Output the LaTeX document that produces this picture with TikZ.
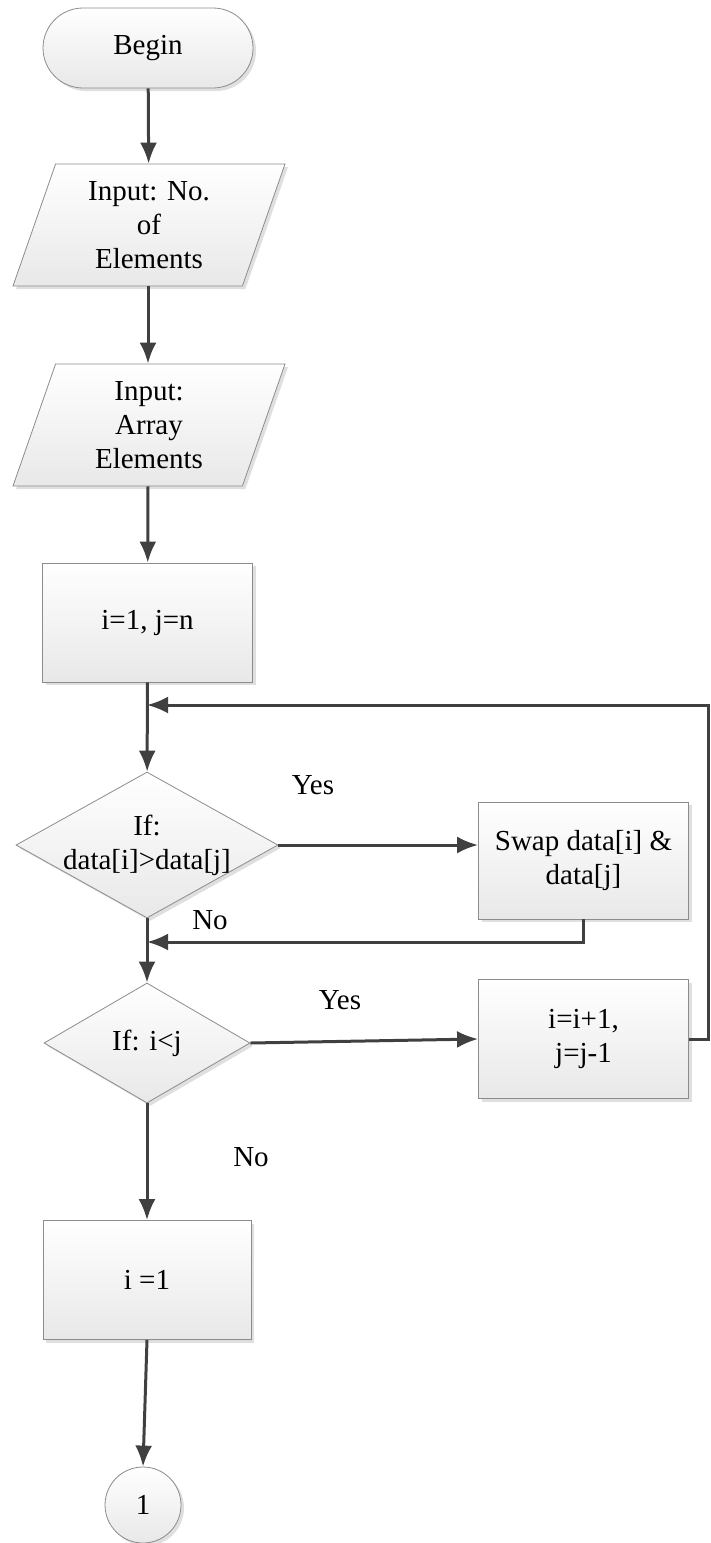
\documentclass[tikz,border=0pt]{standalone}
\usepackage{fontspec}
\setmainfont{Liberation Serif}
\usetikzlibrary{shapes.geometric,shapes.misc,arrows.meta,shadows}

\begin{document}
\begin{tikzpicture}[x=1pt, y=-1pt, >={Latex[length=21pt,width=17pt]},
    every node/.style={font=\fontsize{29}{34}\selectfont, align=center},
    flow/.style={line width=3pt, draw=black!75},
    blk/.style={draw=black!45, line width=0.8pt, top color=white, bottom color=black!9,
        drop shadow={shadow xshift=3pt, shadow yshift=-3pt, fill=black!25, opacity=0.5}, inner sep=0pt},
    term/.style={blk, rounded rectangle, minimum width=210pt, minimum height=80pt},
    io/.style={blk, trapezium, trapezium left angle=64, trapezium right angle=116,
        trapezium stretches body, minimum width=272pt, minimum height=122pt},
    proc/.style={blk, rectangle, minimum width=210pt, minimum height=119pt},
    decide/.style={blk, diamond, shape aspect=1.8},
    conn/.style={blk, circle, minimum size=76pt}]
    \useasboundingbox (0,0) rectangle (711,1543);
    % Blocks
    \node[term] (begin) at (148,48) {Begin};
    \node[io] (inum) at (149,225) {Input: No.\\of\\Elements};
    \node[io] (iarr) at (149,425) {Input:\\Array\\Elements};
    \node[proc] (init) at (147.5,622.5) {i=1, j=n};
    \node[decide, minimum width=262pt, minimum height=146pt, inner xsep=-16pt] (cmp) at (147,845) {If:\\data[i]>data[j]};
    \node[proc, minimum height=117pt] (swap) at (583.5,860.5) {Swap data[i] \&\\data[j]};
    \node[decide, minimum width=206pt, minimum height=120pt] (test) at (147,1043) {If: i<j};
    \node[proc] (incr) at (583.5,1039) {i=i+1,\\j=j-1};
    \node[proc, minimum width=208pt] (iset) at (147,1280) {i =1};
    \node[conn] (one) at (143,1505) {1};
    % Labels
    \node (yes1) at (313,785) {Yes};
    \node (no1) at (210,920) {No};
    \node (yes2) at (340,1000) {Yes};
    \node (no2) at (251,1157) {No};
    % Joins
    \coordinate (join1) at (147,705);
    \coordinate (join2) at (147,942);
    % Connectors
    \draw[flow, ->] (begin) -- (inum);
    \draw[flow, ->] (inum.south -| begin) -- (iarr.north -| begin);
    \draw[flow, ->] (iarr.south -| begin) -- (init);
    \draw[flow, ->] (init) -- (cmp);
    \draw[flow, ->] (cmp.east) -- (swap.west |- cmp.east);
    \draw[flow, ->] (swap.south) |- (join2);
    \draw[flow, ->] (cmp) -- (test);
    \draw[flow, ->] (test.east) -- (incr.west);
    \draw[flow, ->] (incr.east) -- ++(20,0) |- (join1);
    \draw[flow, ->] (test) -- (iset);
    \draw[flow, ->] (iset.south) -- (one.north);
\end{tikzpicture}
\end{document}
